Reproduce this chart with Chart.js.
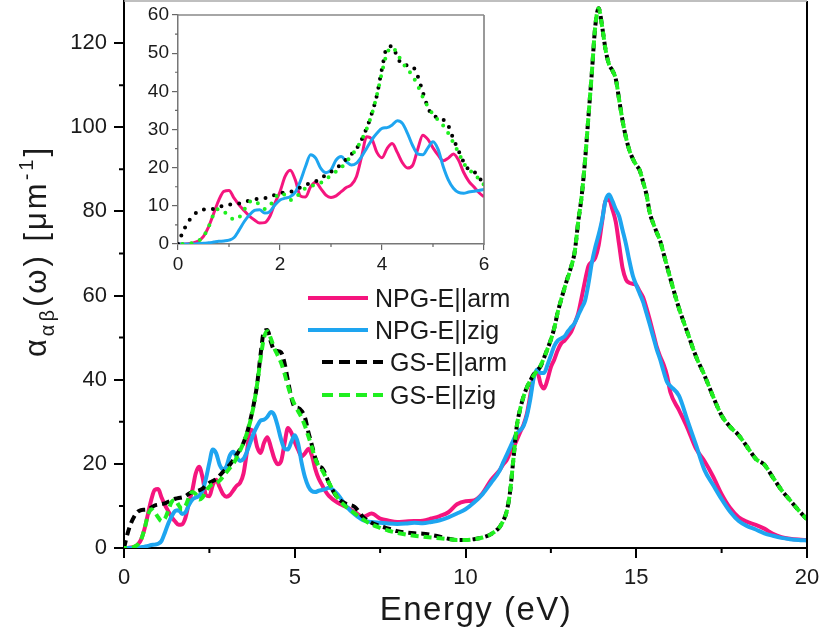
<!DOCTYPE html>
<html>
<head>
<meta charset="utf-8">
<script src="https://cdn.jsdelivr.net/npm/chart.js@4.4.0/dist/chart.umd.min.js"></script>
<style>
  html, body { margin: 0; padding: 0; background: #fff; }
  #wrap { position: relative; width: 820px; height: 639px; }
  #mainChart { position: absolute; left: 0; top: 0; }
  #insetChart { position: absolute; left: 130px; top: 0; }
</style>
</head>
<body>
<div id="wrap">
  <canvas id="mainChart" width="820" height="639"></canvas>
  <canvas id="insetChart" width="370" height="280"></canvas>
</div>
<script>
// photon energy (eV)
let energy = [
  0, 0.1, 0.2, 0.3, 0.4, 0.5, 0.6, 0.7, 0.8, 0.9,
  1.0, 1.1, 1.2, 1.3, 1.4, 1.5, 1.6, 1.7, 1.8, 1.9,
  2.0, 2.1, 2.2, 2.3, 2.4, 2.5, 2.6, 2.7, 2.8, 2.9,
  3.0, 3.1, 3.2, 3.3, 3.4, 3.5, 3.6, 3.7, 3.8, 3.9,
  4.0, 4.1, 4.2, 4.3, 4.4, 4.5, 4.6, 4.7, 4.8, 4.9,
  5.0, 5.1, 5.2, 5.3, 5.4, 5.5, 5.6, 5.7, 5.8, 5.9,
  6.0,
  6.25, 6.5, 6.75, 7.0, 7.25, 7.5, 7.75, 8.0, 8.25, 8.5,
  8.75, 9.0, 9.25, 9.5, 9.75, 10.0, 10.25, 10.5, 10.75, 11.0,
  11.1, 11.2, 11.3, 11.4, 11.5, 11.6, 11.7, 11.8, 11.9, 12.0,
  12.1, 12.2, 12.3, 12.4, 12.5, 12.6, 12.7, 12.8, 12.9, 13.0,
  13.1, 13.2, 13.3, 13.4, 13.5, 13.6, 13.7, 13.8, 13.9, 14.0,
  14.1, 14.2, 14.3, 14.4, 14.5, 14.6, 14.7, 14.8, 14.9, 15.0,
  15.1, 15.2, 15.3, 15.4, 15.5, 15.6, 15.7, 15.8, 15.9, 16.0,
  16.25, 16.5, 16.75, 17.0, 17.25, 17.5, 17.75, 18.0, 18.25, 18.5,
  18.75, 19.0, 19.25, 19.5, 19.75, 20.0
];

let npgArm = [
  0, 0, 0.1, 0.3, 0.8, 2.0, 4.5, 8.0, 11.5, 13.8,
  14.0, 12.0, 10.2, 8.7, 7.3, 6.3, 5.5, 5.6, 7.2, 10.7,
  13.7, 17.7, 19.3, 16.8, 12.6, 12.3, 15.0, 16.2, 14.5, 12.8,
  12.2, 12.6, 13.7, 14.8, 15.5, 17.7, 22.9, 28.1, 27.5, 24.0,
  22.6, 25.0, 26.3, 24.0, 21.3, 19.9, 20.6, 24.8, 28.5, 27.4,
  25.2, 23.3, 21.8, 22.5, 23.6, 22.0, 18.8, 16.5, 15.0, 13.5,
  12.4,
  10.8, 9.8, 8.6, 7.4, 8.2, 7.0, 6.5, 6.2, 6.3, 6.4,
  6.5, 7.0, 7.6, 8.5, 10.4, 11.1, 11.3, 13.0, 16.2, 18.5,
  19.8, 20.8, 22.5, 23.8, 25.6, 27.5, 29.3, 32.0, 36.5, 41.0,
  41.8, 39.0, 37.9, 40.0, 43.0, 44.8, 47.0, 48.6, 49.3, 50.3,
  51.5, 53.5, 55.7, 59.5, 63.5, 67.0, 68.0, 69.0, 72.0, 77.5,
  82.5, 82.8, 80.5, 77.5, 72.0, 66.5, 63.8, 63.0, 62.8, 62.5,
  61.0, 59.6, 57.0, 54.1, 51.0, 47.8, 45.5, 43.6, 41.0, 37.0,
  32.8, 28.5, 23.6, 20.6, 17.0, 12.8, 9.5, 7.3, 6.2, 5.5,
  4.6, 3.4, 2.6, 2.2, 2.0, 1.9
];

let npgZig = [
  0, 0, 0, 0, 0.1, 0.2, 0.3, 0.5, 0.7, 0.8,
  1.0, 1.7, 3.7, 5.9, 7.6, 8.8, 9.0, 8.1, 8.5, 10.2,
  11.5, 12.0, 12.4, 13.6, 16.5, 20.3, 23.4, 22.5, 19.8, 18.7,
  19.4, 22.0, 22.9, 21.6, 20.7, 21.2, 22.9, 25.1, 27.3, 29.0,
  30.3, 30.5, 31.2, 32.3, 31.6, 29.0, 25.8, 23.6, 23.4, 25.2,
  26.8, 24.8, 20.3, 16.8, 14.6, 13.5, 13.3, 13.6, 13.8, 14.0,
  14.3,
  12.8, 10.0, 8.0, 6.6, 6.2, 6.0, 5.8, 5.7, 5.8, 6.0,
  5.9, 6.2, 6.6, 7.3, 8.2, 9.2, 10.8, 12.8, 15.5, 18.4,
  20.3, 22.0, 23.8, 25.6, 27.2, 28.0, 29.0, 31.5, 35.5, 40.5,
  42.4, 41.6, 41.6, 43.5, 45.8, 48.0, 49.3, 49.8, 50.3, 51.5,
  52.5, 53.5, 55.3, 57.0, 58.8, 62.8, 67.8, 71.5, 74.5, 78.0,
  82.5, 84.0, 82.5, 80.5, 78.8, 75.5, 72.2, 68.2, 64.7, 62.5,
  60.5, 58.5, 55.8, 53.0, 50.1, 47.2, 44.8, 42.0, 39.5, 38.5,
  36.2, 30.3, 24.5, 18.5, 15.0, 11.6, 8.6, 6.4, 5.2, 4.4,
  3.5, 2.9, 2.4, 2.1, 1.9, 1.8
];

let gsArm = [
  0, 3.3, 5.8, 7.5, 8.6, 9.0, 9.1, 9.2, 9.6, 10.1,
  10.3, 10.5, 10.6, 11.0, 11.4, 11.7, 11.9, 12.0, 12.3, 12.9,
  13.3, 13.5, 13.7, 14.1, 14.8, 15.5, 15.9, 16.4, 17.2, 18.1,
  18.9, 19.8, 20.9, 22.2, 23.5, 25.0, 27.3, 30.4, 34.2, 39.0,
  46.0, 51.5, 51.8, 49.0, 47.0, 46.8, 46.5, 44.0, 39.8, 35.8,
  33.5, 33.3, 32.6, 31.0, 27.5, 24.5, 21.5, 19.5, 19.0, 17.5,
  15.5,
  12.0, 10.5, 9.8, 7.4, 6.0, 5.2, 4.6, 4.0, 3.7, 3.5,
  3.4, 3.1, 2.7, 2.2, 1.9, 1.9, 2.1, 2.5, 3.3, 5.0,
  6.4, 8.5, 13.0, 20.9, 28.8, 33.0, 36.0, 38.2, 39.8, 41.3,
  42.2, 43.2, 45.2, 47.3, 49.5, 52.3, 56.0, 59.0, 61.8, 64.5,
  67.0, 70.5, 77.5, 83.5, 92.0, 102.5, 113.0, 124.0, 128.3, 124.0,
  118.5, 115.0, 113.5, 111.5, 106.5, 101.5, 97.5, 94.5, 92.5, 91.0,
  89.8, 87.0, 84.0, 79.5, 77.1, 75.0, 73.0, 70.0, 67.0, 64.0,
  57.0, 51.2, 45.5, 41.0, 36.0, 31.5, 28.8, 26.8, 24.0, 21.2,
  19.8, 16.8, 13.8, 11.4, 9.0, 6.8
];

let gsZig = [
  0, 0, 0.1, 0.3, 0.8, 2.0, 4.5, 7.8, 9.2, 8.5,
  7.3, 6.4, 7.0, 9.0, 11.0, 11.4, 10.2, 9.2, 10.0, 12.0,
  13.3, 12.8, 11.5, 12.0, 13.5, 14.6, 15.2, 15.4, 16.0, 17.0,
  18.0, 19.0, 20.0, 21.5, 23.2, 25.0, 27.3, 30.2, 34.0, 39.0,
  45.0, 50.0, 51.5, 49.8, 47.5, 45.8, 44.0, 41.5, 38.5, 36.0,
  34.0, 32.5, 31.0, 29.0, 26.5, 24.0, 21.2, 19.5, 18.5, 17.0,
  15.5,
  12.0, 9.8, 8.3, 6.8, 5.6, 4.8, 4.1, 3.6, 3.2, 2.9,
  2.7, 2.5, 2.3, 2.1, 1.9, 1.9, 2.1, 2.5, 3.3, 5.0,
  6.4, 8.5, 13.0, 20.9, 28.8, 33.0, 36.0, 38.2, 39.8, 41.0,
  42.2, 43.4, 45.2, 47.3, 49.5, 52.3, 56.0, 59.0, 61.8, 64.3,
  67.0, 70.5, 77.5, 83.5, 92.0, 102.5, 113.0, 124.0, 128.3, 124.0,
  118.5, 115.0, 113.5, 111.5, 106.5, 101.5, 97.5, 94.5, 92.5, 91.0,
  89.8, 87.0, 84.0, 79.5, 77.1, 75.0, 73.0, 70.0, 67.0, 64.0,
  57.0, 51.2, 45.5, 41.0, 36.0, 31.5, 28.8, 26.8, 24.0, 21.2,
  19.8, 16.8, 13.8, 11.4, 9.0, 6.8
];

let seriesLabels = ['NPG-E||arm', 'NPG-E||zig', 'GS-E||arm', 'GS-E||zig'];
let seriesColors = ['#f5157e', '#1ea5f0', '#000000', '#1fef1f'];

// tick positions
let mainMinorX = [2.5, 7.5, 12.5, 17.5];
let mainMinorY = [10, 30, 50, 70, 90, 110];
let insetMinorX = [1, 3, 5];
let insetMinorY = [5, 15, 25, 35, 45, 55];

let FONT = "'Liberation Sans', Arial, sans-serif";
Chart.defaults.font.family = FONT;
Chart.defaults.color = '#1a1a1a';

function pts(ys) {
  return energy.map((e, i) => ({ x: e, y: ys[i] }));
}

// fixed axis sizes, no automatic label padding
function fixX(h) {
  return s => { s.height = h; s.paddingLeft = 0; s.paddingRight = 0; };
}
function fixY(w) {
  return s => { s.width = w; s.paddingTop = 0; s.paddingBottom = 0; };
}

// draws minor ticks + the missing frame sides
let framePlugin = {
  id: 'frame',
  afterDraw(chart, args, o) {
    let { ctx, chartArea: a, scales: { x, y } } = chart;
    ctx.save();
    ctx.lineCap = 'butt';
    ctx.strokeStyle = o.tickColor;
    ctx.lineWidth = o.tickWidth;
    ctx.beginPath();
    o.minorX.forEach(v => {
      let px = x.getPixelForValue(v);
      ctx.moveTo(px, a.bottom); ctx.lineTo(px, a.bottom + o.minorLen);
    });
    o.minorY.forEach(v => {
      let py = y.getPixelForValue(v);
      ctx.moveTo(a.left, py); ctx.lineTo(a.left - o.minorLen, py);
    });
    ctx.stroke();

    ctx.strokeStyle = o.rightColor;
    ctx.lineWidth = o.rightWidth;
    ctx.beginPath();
    ctx.moveTo(a.right, a.top); ctx.lineTo(a.right, a.bottom + 1);
    ctx.stroke();
    ctx.strokeStyle = o.topColor;
    ctx.lineWidth = o.topWidth;
    ctx.beginPath();
    ctx.moveTo(a.left, a.top); ctx.lineTo(a.right, a.top);
    ctx.stroke();
    ctx.restore();
  }
};

let legendRows = [
  { x1: 308, x2: 368, y: 298, tx: 375, ty: 306.5, dash: [] },
  { x1: 308, x2: 368, y: 330, tx: 375, ty: 339, dash: [] },
  { x1: 322, x2: 383, y: 362, tx: 390, ty: 370.5, dash: [11, 6] },
  { x1: 322, x2: 383, y: 395, tx: 390, ty: 403.5, dash: [11, 6] }
];

let titlesPlugin = {
  id: 'titles',
  afterDraw(chart) {
    let ctx = chart.ctx;
    ctx.save();
    // legend
    chart.data.datasets.forEach((ds, i) => {
      let r = legendRows[i];
      ctx.strokeStyle = ds.borderColor;
      ctx.lineWidth = 4;
      ctx.setLineDash(r.dash);
      ctx.beginPath();
      ctx.moveTo(r.x1, r.y); ctx.lineTo(r.x2, r.y);
      ctx.stroke();
      ctx.setLineDash([]);
      ctx.fillStyle = '#1a1a1a';
      ctx.font = '25px ' + FONT;
      ctx.textBaseline = 'alphabetic';
      ctx.textAlign = 'left';
      ctx.fillText(ds.label, r.tx, r.ty);
    });

    // x title
    ctx.font = '33px ' + FONT;
    ctx.letterSpacing = '1.5px';
    ctx.textAlign = 'center';
    ctx.fillText('Energy (eV)', 476, 620);

    // y title with sub/superscripts
    let big = '31px ' + FONT, small = '20px ' + FONT;
    let parts = [
      { t: 'α', f: big, dy: 0 },
      { t: 'αβ', f: small, dy: 8 },
      { t: '(ω) [μm', f: big, dy: 0 },
      { t: '-1', f: small, dy: -13 },
      { t: ']', f: big, dy: 0 }
    ];
    ctx.letterSpacing = '3px';
    ctx.textAlign = 'left';
    let total = 0;
    parts.forEach(p => { ctx.font = p.f; p.w = ctx.measureText(p.t).width; total += p.w; });
    ctx.translate(46, 251);
    ctx.rotate(-Math.PI / 2);
    let cx = -total / 2;
    parts.forEach(p => {
      ctx.font = p.f;
      ctx.fillText(p.t, cx, p.dy);
      cx += p.w;
    });
    ctx.restore();
  }
};

let mainCtx = document.getElementById('mainChart').getContext('2d');
let mainChart = new Chart(mainCtx, {
  type: 'line',
  data: {
    datasets: [
      { label: seriesLabels[0], data: pts(npgArm), borderColor: seriesColors[0], borderWidth: 4, order: 4 },
      { label: seriesLabels[1], data: pts(npgZig), borderColor: seriesColors[1], borderWidth: 4, order: 3 },
      { label: seriesLabels[2], data: pts(gsArm), borderColor: seriesColors[2], borderWidth: 4, borderDash: [8, 5], order: 2 },
      { label: seriesLabels[3], data: pts(gsZig), borderColor: seriesColors[3], borderWidth: 4, borderDash: [8, 5], borderDashOffset: 5, order: 1 }
    ]
  },
  options: {
    responsive: false,
    animation: false,
    layout: { padding: { top: 1, right: 13, left: 0, bottom: 0 } },
    elements: {
      point: { radius: 0 },
      line: { cubicInterpolationMode: 'monotone', fill: false }
    },
    plugins: {
      legend: { display: false },
      tooltip: { enabled: false },
      frame: {
        minorX: mainMinorX, minorY: mainMinorY, minorLen: 5,
        tickColor: '#000', tickWidth: 2,
        rightColor: '#000', rightWidth: 2,
        topColor: '#aaaaaa', topWidth: 1.5
      }
    },
    scales: {
      x: {
        type: 'linear', min: 0, max: 20,
        afterFit: fixX(91),
        border: { color: '#000', width: 2 },
        grid: { drawOnChartArea: false, tickLength: 10, tickColor: '#000', lineWidth: 2 },
        ticks: { stepSize: 5, padding: 7, font: { size: 22 }, color: '#1a1a1a', maxRotation: 0 }
      },
      y: {
        type: 'linear', min: 0, max: 130,
        afterFit: fixY(124),
        border: { color: '#000', width: 2 },
        grid: { drawOnChartArea: false, tickLength: 10, tickColor: '#000', lineWidth: 2 },
        ticks: { stepSize: 20, includeBounds: false, padding: 7, font: { size: 22 }, color: '#1a1a1a' }
      }
    }
  },
  plugins: [framePlugin, titlesPlugin]
});

let insetCtx = document.getElementById('insetChart').getContext('2d');
let insetChart = new Chart(insetCtx, {
  type: 'line',
  data: {
    datasets: [
      { label: seriesLabels[0], data: pts(npgArm), borderColor: seriesColors[0], borderWidth: 3, order: 4 },
      { label: seriesLabels[1], data: pts(npgZig), borderColor: seriesColors[1], borderWidth: 3, order: 3 },
      { label: seriesLabels[2], data: pts(gsArm), borderColor: seriesColors[2], borderWidth: 4, borderDash: [0, 9], borderCapStyle: 'round', order: 2 },
      { label: seriesLabels[3], data: pts(gsZig), borderColor: seriesColors[3], borderWidth: 4, borderDash: [0, 9], borderDashOffset: 4.5, borderCapStyle: 'round', order: 1 }
    ]
  },
  options: {
    responsive: false,
    animation: false,
    layout: { padding: { top: 15, right: 16, left: 0, bottom: 0 } },
    elements: {
      point: { radius: 0 },
      line: { cubicInterpolationMode: 'monotone', fill: false }
    },
    plugins: {
      legend: { display: false },
      tooltip: { enabled: false },
      frame: {
        minorX: insetMinorX, minorY: insetMinorY, minorLen: 3,
        tickColor: '#666', tickWidth: 1.2,
        rightColor: '#777', rightWidth: 1.5,
        topColor: '#888', topWidth: 1.5
      }
    },
    scales: {
      x: {
        type: 'linear', min: 0, max: 6,
        afterFit: fixX(36),
        border: { color: '#777', width: 1.5 },
        grid: { drawOnChartArea: false, tickLength: 6, tickColor: '#666', lineWidth: 1.2 },
        ticks: { stepSize: 2, padding: 3, font: { size: 19 }, color: '#1a1a1a', maxRotation: 0 }
      },
      y: {
        type: 'linear', min: 0, max: 60,
        afterFit: fixY(48),
        border: { color: '#777', width: 1.5 },
        grid: { drawOnChartArea: false, tickLength: 6, tickColor: '#666', lineWidth: 1.2 },
        ticks: { stepSize: 10, padding: 3, font: { size: 19 }, color: '#1a1a1a' }
      }
    }
  },
  plugins: [framePlugin]
});
</script>
</body>
</html>
